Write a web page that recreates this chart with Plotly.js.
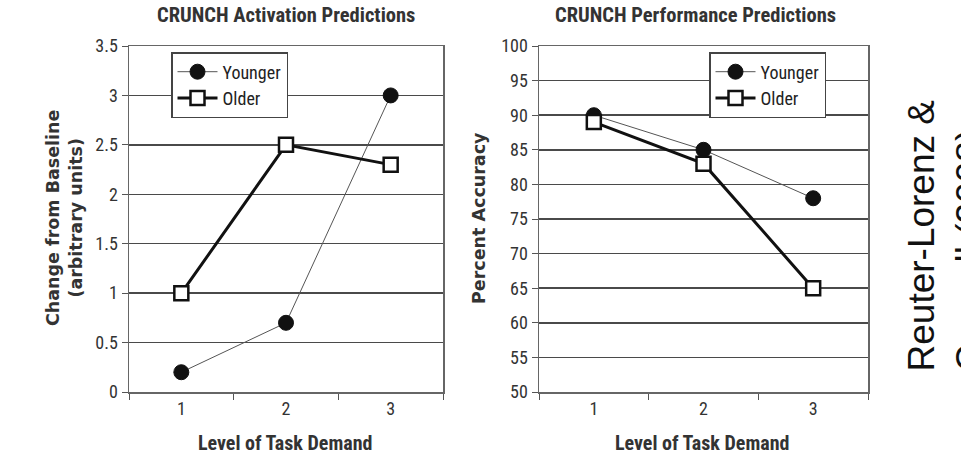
<!DOCTYPE html>
<html><head><meta charset="utf-8">
<script src="https://cdn.plot.ly/plotly-3.0.1.min.js"></script>
<style>body{margin:0;background:#fff}#c{width:961px;height:470px}</style>
</head><body><div id="c"></div>
<script>
const levels = ['1','2','3'];
const actYounger = [0.2, 0.7, 3.0];
const actOlder = [1.0, 2.5, 2.3];
const perfYounger = [90, 85, 78];
const perfOlder = [89, 83, 65];
const seriesNames = ['Younger','Older'];
const titles = ['CRUNCH Activation Predictions','CRUNCH Performance Predictions'];

const NARROW = '"Liberation Sans Narrow", "Arial Narrow", "Roboto Condensed", sans-serif';
const ARIAL = '"Liberation Sans", Arial, sans-serif';
const WIDE = '"DejaVu Sans", Verdana, sans-serif';

function younger(y, xa, ya, lg, show){
  return {x: levels, y: y, xaxis: xa, yaxis: ya, name: seriesNames[0], legend: lg, showlegend: show,
    mode: 'lines+markers', line: {color: '#555', width: 1},
    marker: {symbol: 'circle', size: 15, color: '#111', line: {color: '#111', width: 1}}};
}
function older(y, xa, ya, lg, show){
  return {x: levels, y: y, xaxis: xa, yaxis: ya, name: seriesNames[1], legend: lg, showlegend: show,
    mode: 'lines+markers', line: {color: '#111', width: 3},
    marker: {symbol: 'square', size: 14, color: '#fff', line: {color: '#111', width: 2.5}}};
}
const data = [
  younger(actYounger, 'x', 'y', 'legend', true),
  older(actOlder, 'x', 'y', 'legend', true),
  younger(perfYounger, 'x2', 'y2', 'legend2', true),
  older(perfOlder, 'x2', 'y2', 'legend2', true)
];

const W = 961, H = 470;
const px = v => v / W, py = v => (H - v) / H;
const xCommon = {type: 'category', range: [-0.5, 2.5], tickson: 'boundaries', ticks: 'outside', ticklen: 6,
  tickcolor: '#555', showline: true, linecolor: '#666', linewidth: 1.5, mirror: true, showgrid: false,
  tickfont: {family: NARROW, size: 18, color: '#333'}, zeroline: false, fixedrange: true};
const yCommon = {ticks: 'outside', ticklen: 6, tickcolor: '#555', showline: true, linecolor: '#666', linewidth: 1.5,
  mirror: true, showgrid: true, gridcolor: '#4a4a4a', gridwidth: 1.5, zeroline: false,
  tickfont: {family: NARROW, size: 18, color: '#333'}, fixedrange: true};

const legCommon = {bgcolor: '#fff', bordercolor: '#444', borderwidth: 1.5, xanchor: 'left', yanchor: 'top',
  font: {family: NARROW, size: 18, color: '#222'}, tracegroupgap: 0, itemwidth: 40};

function ann(text, x, y, size, fam, extra){
  return Object.assign({text: text, xref: 'paper', yref: 'paper', x: px(x), y: py(y), xanchor: 'center',
    yanchor: 'middle', showarrow: false, font: {family: fam, size: size, color: '#333'}}, extra || {});
}

const layout = {
  width: W, height: H, margin: {l: 0, r: 0, t: 0, b: 0}, paper_bgcolor: '#fff', plot_bgcolor: '#fff',
  xaxis: Object.assign({}, xCommon, {domain: [px(129), px(443)], anchor: 'y'}),
  yaxis: Object.assign({}, yCommon, {domain: [py(392), py(46)], range: [0, 3.5], dtick: 0.5, anchor: 'x'}),
  xaxis2: Object.assign({}, xCommon, {domain: [px(539), px(868)], anchor: 'y2'}),
  yaxis2: Object.assign({}, yCommon, {domain: [py(392), py(46)], range: [50, 100], dtick: 5, anchor: 'x2'}),
  legend: Object.assign({}, legCommon, {x: px(171), y: py(52)}),
  legend2: Object.assign({}, legCommon, {x: px(709), y: py(52)}),
  annotations: [
    ann('<b>' + titles[0] + '</b>', 286, 15, 20.5, NARROW),
    ann('<b>' + titles[1] + '</b>', 695, 15, 20.5, NARROW),
    ann('<b>Level of Task Demand</b>', 285, 443, 20, NARROW),
    ann('<b>Level of Task Demand</b>', 702, 443, 20, NARROW),
    ann('<b>Change from Baseline<br>(arbitrary units)</b>', 64, 218, 17.5, WIDE, {textangle: -90}),
    ann('<b>Percent Accuracy</b>', 479, 218, 17.5, WIDE, {textangle: -90}),
    ann('Reuter-Lorenz &<br>Cappell (2008)', 898, 236, 37, ARIAL,
      {xanchor: 'left', align: 'left', textangle: -90, font: {family: ARIAL, size: 37, color: '#111'}})
  ]
};
Plotly.newPlot('c', data, layout, {staticPlot: true});
</script></body></html>
